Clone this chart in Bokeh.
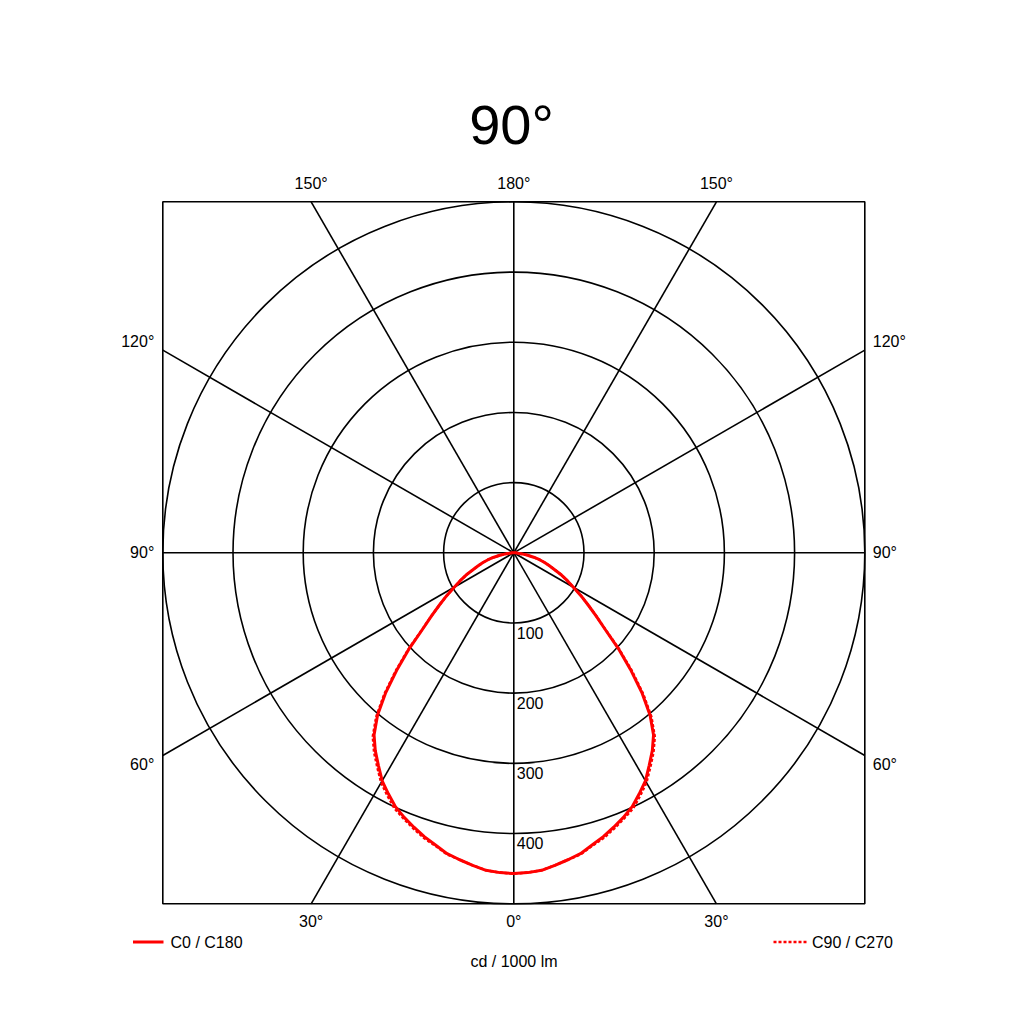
import numpy as np
from bokeh.plotting import figure
from bokeh.models import Range1d
from bokeh.core.properties import value
from bokeh.embed import file_html
from bokeh.resources import INLINE

# ---- data (cd / 1000 lm) ----
gamma = [0, 2.5, 5, 7.5, 10, 12.5, 15, 17.5, 20, 22.5, 25, 27.5, 30, 32.5, 35, 37.5,
         40, 42.5, 45, 47.5, 50, 52.5, 55, 57.5, 60, 62.5, 65, 67.5, 70, 72.5, 75,
         77.5, 80, 82.5, 85, 87.5, 90]
i_c0 = [457, 456, 454, 449, 444, 439, 431, 424, 416, 408, 399, 387, 375, 359, 344, 327,
        302, 270, 235, 202, 170, 148, 129, 113, 98, 86, 75, 63, 54, 46, 38,
        29, 20, 12, 6, 2, 0]
i_c180 = list(i_c0)
i_c90 = [457, 456, 454, 449, 444, 440, 432, 426, 418, 410, 402, 390, 378, 362, 347, 330,
         305, 273, 238, 204, 171, 148, 129, 113, 98, 86, 75, 63, 54, 46, 38,
         29, 20, 12, 6, 2, 0]
i_c270 = list(i_c90)

ring_values = [100, 200, 300, 400, 500]
ring_labels = ["100", "200", "300", "400"]
spoke_angles = [0, 30, 60, 90, 120, 150]
bottom_labels = ["30°", "0°", "30°"]
top_labels = ["150°", "180°", "150°"]
side_labels = ["120°", "90°", "60°"]
title_text = "90°"
legend_labels = ["C0 / C180", "C90 / C270"]
unit_text = "cd / 1000 lm"

# ---- geometry ----
S = 0.702              # px per cd
CX, CY = 513.3, 552.3  # image px of pole
W = H = 1000
R = 500

def d(xi, yi):
    return (xi - CX) / S, (CY - yi) / S

p = figure(width=W, height=H, output_backend="svg", toolbar_location=None,
           x_range=Range1d((0 - CX) / S, (W - CX) / S),
           y_range=Range1d((CY - H) / S, (CY - 0) / S),
           min_border=0)
p.axis.visible = False
p.grid.visible = False
p.outline_line_color = None
p.background_fill_color = "white"
p.border_fill_color = "white"

LW = 1.6
# frame
p.quad(left=[-R], right=[R], bottom=[-R], top=[R], fill_color=None,
       line_color="black", line_width=LW)
# rings
p.circle(x=[0] * len(ring_values), y=[0] * len(ring_values), radius=ring_values,
         fill_color=None, line_color="black", line_width=LW)
# spokes
x0s, y0s, x1s, y1s = [], [], [], []
for a in spoke_angles:
    t = np.radians(a)
    sx, sy = np.sin(t), -np.cos(t)
    k = R / max(abs(sx), abs(sy))
    x0s.append(-sx * k); y0s.append(-sy * k)
    x1s.append(sx * k); y1s.append(sy * k)
p.segment(x0=x0s, y0=y0s, x1=x1s, y1=y1s, line_color="black", line_width=LW)

# curves
g = np.radians(np.array(gamma))
def polar_half(vals, sign):
    v = np.array(vals, dtype=float)
    return sign * v * np.sin(g), -v * np.cos(g)

xl, yl = polar_half(i_c180, -1)
xr, yr = polar_half(i_c0, 1)
xs_solid = np.concatenate([xl[::-1], xr[1:]])
ys_solid = np.concatenate([yl[::-1], yr[1:]])
xl2, yl2 = polar_half(i_c270, -1)
xr2, yr2 = polar_half(i_c90, 1)
xs_dot = np.concatenate([xl2[::-1], xr2[1:]])
ys_dot = np.concatenate([yl2[::-1], yr2[1:]])

p.line(xs_dot, ys_dot, line_color="#ff0000", line_width=2.5, line_dash="3 2",
       line_join="round")
p.line(xs_solid, ys_solid, line_color="#ff0000", line_width=3, line_join="round")

FONT = value("Liberation Sans")
FS = "16px"
t30 = R * np.tan(np.radians(30))

def txt(xs, ys, texts, align="center", size=FS, baseline="middle"):
    p.text(x=xs, y=ys, text=texts, text_font=FONT, text_font_size=size,
           text_align=align, text_baseline=baseline, text_color="black")

off = 18 / S
txt([-t30, 0, t30], [-R - off] * 3, bottom_labels)
txt([-t30, 0, t30], [R + off] * 3, top_labels)
side_y = [t30 + 9 / S, 0, -t30 - 9 / S]
txt([-R - 8.5 / S] * 3, side_y, side_labels, align="right")
txt([R + 8 / S] * 3, side_y, side_labels, align="left")
# ring labels
txt([3 / S] * len(ring_labels), [-(r) - 9.5 / S for r in ring_values[:4]], ring_labels,
    align="left")
# title
tx, ty = d(511, 124)
txt([tx], [ty], [title_text], size="56px")
# legend
lx0, ly = d(132.5, 941.5)
lx1, _ = d(163, 941.5)
p.segment(x0=[lx0], y0=[ly], x1=[lx1], y1=[ly], line_color="#ff0000", line_width=3)
tx1, _ = d(170, 941.5)
txt([tx1], [ly], [legend_labels[0]], align="left")
rx0, _ = d(773, 941.5)
rx1, _ = d(806, 941.5)
p.segment(x0=[rx0], y0=[ly], x1=[rx1], y1=[ly], line_color="#ff0000", line_width=2.5,
          line_dash="3 2")
tx2, _ = d(811.5, 941.5)
txt([tx2], [ly], [legend_labels[1]], align="left")
ux, uy = d(513.5, 961)
txt([ux], [uy], [unit_text])

open("out.html", "w").write(file_html(p, INLINE))
